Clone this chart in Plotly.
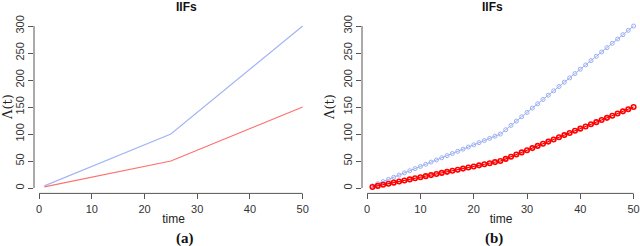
import plotly.graph_objects as go

# Panel (a): piecewise lines
t_a = [1, 25, 50]
blue_a = [4, 100, 300]
red_a = [2, 50, 150]

# Panel (b): points at every time step
t_b = list(range(1, 51))
blue_b = [4, 8, 12, 16, 20, 24, 28, 32, 36, 40, 44, 48, 52, 56, 60, 64, 68, 72, 76, 80,
          84, 88, 92, 96, 100, 108, 116, 124, 132, 140, 148, 156, 164, 172, 180, 188,
          196, 204, 212, 220, 228, 236, 244, 252, 260, 268, 276, 284, 292, 300]
red_b = [2, 4, 6, 8, 10, 12, 14, 16, 18, 20, 22, 24, 26, 28, 30, 32, 34, 36, 38, 40,
         42, 44, 46, 48, 50, 54, 58, 62, 66, 70, 74, 78, 82, 86, 90, 94, 98, 102, 106,
         110, 114, 118, 122, 126, 130, 134, 138, 142, 146, 150]

x_ticks = [0, 10, 20, 30, 40, 50]
y_ticks = [0, 50, 100, 150, 200, 250, 300]

W, H = 640, 246
BLUE_A = "#a3b5f5"
RED_A = "#ff7070"
BLUE_B = "#9cb0f2"
RED_B = "#ff0000"

fig = go.Figure()
fig.add_trace(go.Scatter(x=t_a, y=blue_a, mode="lines", line=dict(color=BLUE_A, width=1.2),
                         xaxis="x", yaxis="y", showlegend=False))
fig.add_trace(go.Scatter(x=t_a, y=red_a, mode="lines", line=dict(color=RED_A, width=1.2),
                         xaxis="x", yaxis="y", showlegend=False))
fig.add_trace(go.Scatter(x=t_b, y=blue_b, mode="lines+markers", line=dict(color=BLUE_B, width=1),
                         marker=dict(symbol="circle-open", size=4, color=BLUE_B, line=dict(width=1)),
                         xaxis="x2", yaxis="y2", showlegend=False))
fig.add_trace(go.Scatter(x=t_b, y=red_b, mode="lines+markers", line=dict(color=RED_B, width=1.2),
                         marker=dict(symbol="circle-open", size=4.5, color=RED_B, line=dict(width=1.6)),
                         xaxis="x2", yaxis="y2", showlegend=False))

ydom = [1 - 193.4 / H, 1 - 19.6 / H]
tickfont = dict(family="Liberation Sans, Arial, sans-serif", size=11, color="#333333")
common_x = dict(tickvals=x_ticks, ticks="outside", ticklen=5, tickcolor="#555555",
                showgrid=False, zeroline=False, showline=False, tickfont=tickfont,
                automargin=False,
                title=dict(text="time", font=dict(family="Liberation Sans, Arial, sans-serif",
                                                  size=12, color="#222222"), standoff=1))
common_y = dict(tickvals=y_ticks, ticks="outside", ticklen=5, tickcolor="#555555",
                showgrid=False, zeroline=False, showline=False, tickfont=tickfont,
                tickangle=-90, range=[-9.92, 311.92], automargin=False,
                title=dict(text="Λ(t)", font=dict(family="DejaVu Serif, serif",
                                                   size=13, color="#222222"), standoff=4))

fig.update_layout(
    width=W, height=H, margin=dict(l=0, r=0, t=0, b=0, autoexpand=False),
    paper_bgcolor="white", plot_bgcolor="white",
    xaxis=dict(domain=[34 / W, 313 / W], range=[-0.96, 51.96], anchor="y", **common_x),
    yaxis=dict(domain=ydom, anchor="x", **common_y),
    xaxis2=dict(domain=[362 / W, 1.0], range=[-0.96, 51.2], anchor="y2", **common_x),
    yaxis2=dict(domain=ydom, anchor="x2", **common_y),
)

# R-style axis lines spanning first to last tick
for xr, yr in [("x", "y"), ("x2", "y2")]:
    fig.add_shape(type="line", xref=xr, yref=f"{yr} domain", x0=x_ticks[0], x1=x_ticks[-1],
                  y0=0, y1=0, line=dict(color="#555555", width=1))
    fig.add_shape(type="line", xref=f"{xr} domain", yref=yr, x0=0, x1=0,
                  y0=y_ticks[0], y1=y_ticks[-1], line=dict(color="#555555", width=1))

for cx, lab in [(173.5 / W, "(a)"), (505 / W, "(b)")]:
    fig.add_annotation(text="<b>IIFs</b>", x=cx, y=1 - 7 / H, xref="paper", yref="paper",
                       yanchor="middle", showarrow=False,
                       font=dict(family="Liberation Sans, Arial, sans-serif",
                                 size=12, color="#111111"))
    fig.add_annotation(text=f"<b>{lab}</b>", x=cx, y=1 - 238 / H, xref="paper", yref="paper",
                       yanchor="middle", showarrow=False,
                       font=dict(family="Liberation Serif, Times New Roman, serif",
                                 size=15, color="#111111"))

fig.write_html("out.html", config={"displayModeBar": False},
               post_script="document.body.style.margin='0';document.body.style.overflow='hidden';")
